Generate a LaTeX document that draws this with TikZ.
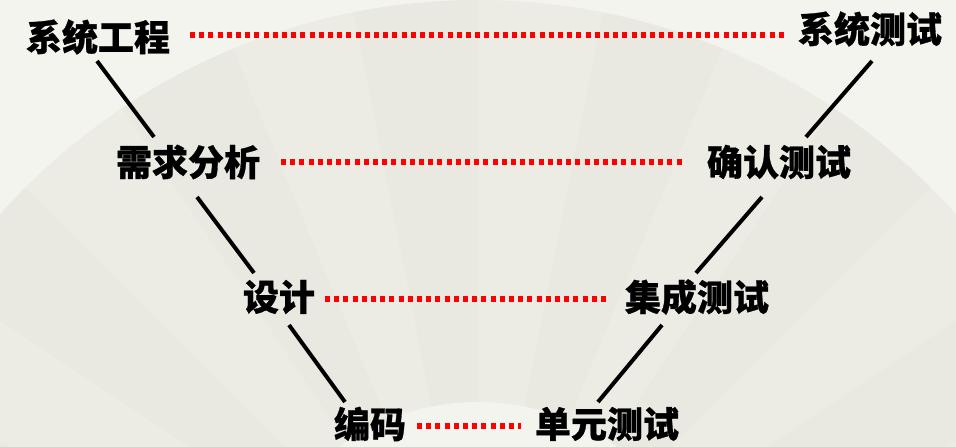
\documentclass[tikz,border=0pt]{standalone}
\usepackage{fontspec}
\newfontfamily\cjk{Noto Sans CJK SC}[BoldFeatures={FakeBold=0.8}]
\usetikzlibrary{calc}
\definecolor{bgpale}{HTML}{F4F4EF}
\definecolor{fanA}{HTML}{ECECE5}
\definecolor{fanB}{HTML}{E9E9E1}
\definecolor{dotred}{HTML}{FF0000}
\tikzset{
  lbl/.style={inner sep=0pt, font=\cjk\bfseries\fontsize{36}{40}\selectfont, text=black},
  vline/.style={line width=4pt, black},
  dotline/.style={line width=5.5pt, dotred, dash pattern=on 5pt off 4.2pt},
}
\begin{document}
\begin{tikzpicture}[x=1pt,y=-1pt]
\useasboundingbox (0,0) rectangle (956,447);
% background with faded fan
\fill[bgpale] (0,0) rectangle (956,447);
\begin{scope}
\clip (0,0) rectangle (956,447);
\foreach \i in {0,...,15}{
  \pgfmathsetmacro{\aa}{180+\i*11.25}
  \pgfmathsetmacro{\bb}{180+(\i+1)*11.25}
  \pgfmathtruncatemacro{\odd}{mod(\i,2)}
  \ifnum\odd=0
    \fill[fanA] (478,640) -- ++(\aa:640) arc[start angle=\aa, end angle=\bb, radius=640] -- cycle;
  \else
    \fill[fanB] (478,640) -- ++(\aa:640) arc[start angle=\aa, end angle=\bb, radius=640] -- cycle;
  \fi
}
\fill[bgpale] (478,640) circle[radius=238];
\end{scope}
% labels
\node[lbl] (xtgc) at (98,37) {系统工程};
\node[lbl] (xtcs) at (870,29) {系统测试};
\node[lbl] (xqfx) at (188,162) {需求分析};
\node[lbl] (qrcs) at (779,162) {确认测试};
\node[lbl] (sj)   at (279,297) {设计};
\node[lbl] (jccs) at (697,297) {集成测试};
\node[lbl] (bm)   at (370,424) {编码};
\node[lbl] (dycs) at (607,424) {单元测试};
% connector ends
\coordinate (a1) at (97,61);   \coordinate (a2) at (154,137);
\coordinate (b1) at (872,61);  \coordinate (b2) at (806,137);
\coordinate (c1) at (197,197); \coordinate (c2) at (254,273);
\coordinate (d1) at (762,197); \coordinate (d2) at (696,273);
\coordinate (e1) at (289,325); \coordinate (e2) at (345,402);
\coordinate (f1) at (662,325); \coordinate (f2) at (598,402);
\draw[vline] (a1) -- (a2);
\draw[vline] (b1) -- (b2);
\draw[vline] (c1) -- (c2);
\draw[vline] (d1) -- (d2);
\draw[vline] (e1) -- (e2);
\draw[vline] (f1) -- (f2);
% dotted links
\coordinate (r1a) at (190,35);  \coordinate (r1b) at (785,35);
\coordinate (r2a) at (281,162); \coordinate (r2b) at (685,162);
\coordinate (r3a) at (325,299); \coordinate (r3b) at (607,299);
\coordinate (r4a) at (417,426); \coordinate (r4b) at (521,426);
\draw[dotline] (r1a) -- (r1b);
\draw[dotline] (r2a) -- (r2b);
\draw[dotline] (r3a) -- (r3b);
\draw[dotline] (r4a) -- (r4b);
\end{tikzpicture}
\end{document}
